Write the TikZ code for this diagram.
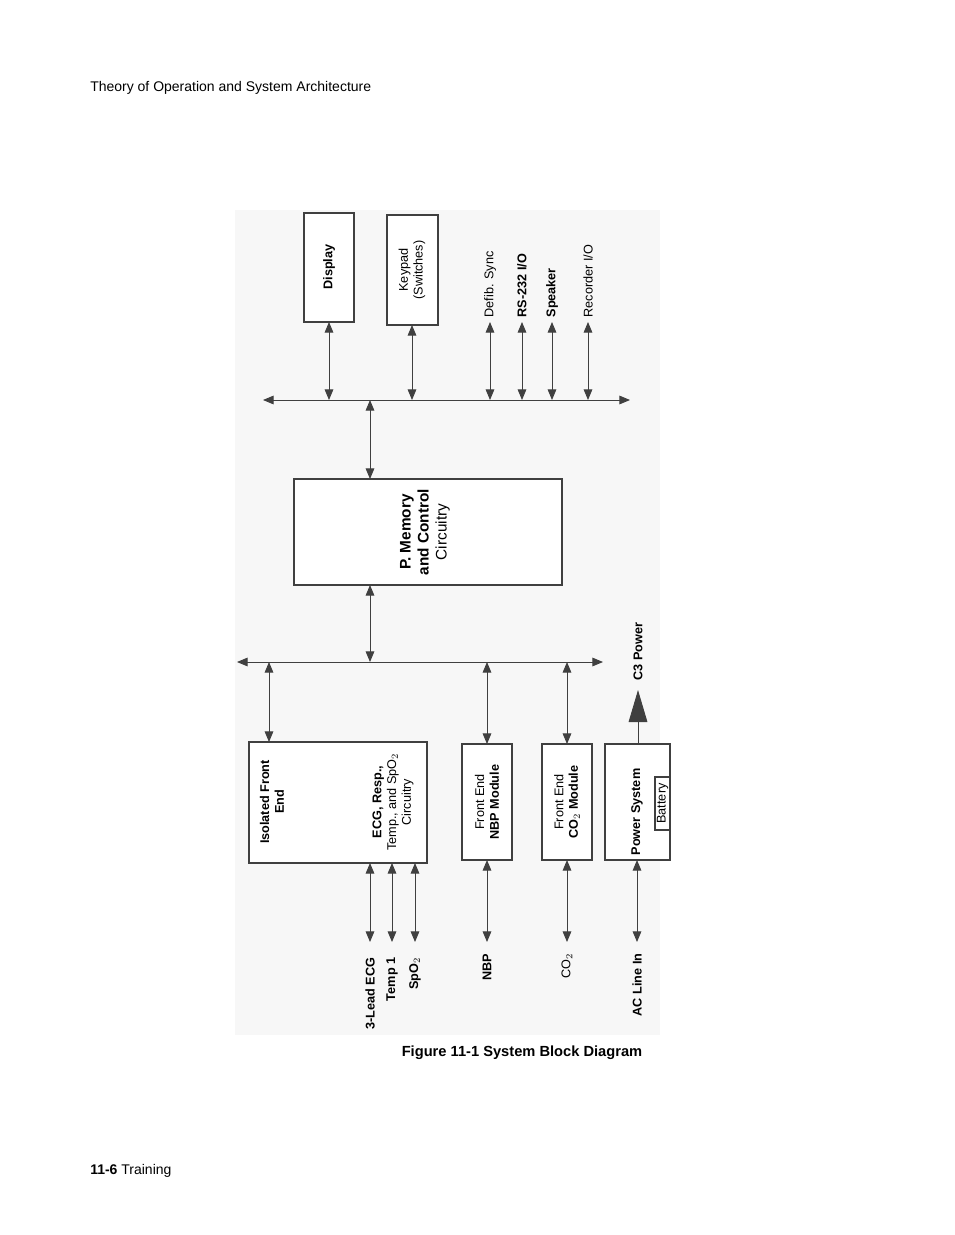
\documentclass[tikz,border=0pt]{standalone}
\usepackage{fontspec}
\setmainfont{Liberation Sans}
\usetikzlibrary{arrows.meta}
\begin{document}
\begin{tikzpicture}[x=0.75pt,y=-0.75pt,
  blk/.style={draw=black!75,line width=0.8pt,fill=white,inner sep=0pt},
  lbl/.style={rotate=90,font=\fontsize{9.5}{11}\selectfont,align=center,inner sep=1pt},
  bi/.style={{Triangle[length=8pt,width=6.5pt]}-{Triangle[length=8pt,width=6.5pt]},draw=black!75,line width=0.7pt},
  page/.style={font=\fontsize{10.5}{12}\selectfont,inner sep=0pt}]
\useasboundingbox (0,0) rectangle (954,1235);
\fill[black!3] (235,210) rectangle (660,1035);
\node[page,anchor=west] (hdr) at (90,88) {Theory of Operation and System Architecture};
\node[page,anchor=west] (ftr) at (90,1171) {\textbf{11-6} Training};
\node[page,font=\fontsize{11}{12}\selectfont\bfseries] (cap) at (522,1053) {Figure 11-1 System Block Diagram};
% boxes
\draw[blk] (304,213) rectangle (354,322);
\coordinate (dispb) at (329,322);
\node[lbl,font=\fontsize{9.5}{11}\selectfont\bfseries] (displ) at (329,267) {Display};
\draw[blk] (387,215) rectangle (438,325);
\coordinate (keyb) at (412,325);
\node[lbl] (keyl) at (412,270) {Keypad\\(Switches)};
\draw[blk] (294,479) rectangle (562,585);
\coordinate (memt) at (370,479); \coordinate (memb) at (370,585);
\node[lbl,font=\fontsize{11.5}{13.5}\selectfont\bfseries] (meml) at (425,532) {P. Memory\\and Control\\\mdseries Circuitry};
\draw[blk] (249,742) rectangle (427,863);
\node[lbl,font=\fontsize{9.5}{11}\selectfont\bfseries] (ifel) at (272,802) {Isolated Front\\End};
\node[lbl] (ecgl) at (393,802) {\textbf{ECG, Resp.,}\\Temp., and SpO$_2$\\Circuitry};
\draw[blk] (462,744) rectangle (512,860);
\node[lbl] (nbpl) at (487,802) {Front End\\\textbf{NBP Module}};
\draw[blk] (542,744) rectangle (592,860);
\node[lbl] (co2l) at (567,802) {Front End\\\textbf{CO$_2$ Module}};
\draw[blk] (605,744) rectangle (670,860);
\node[lbl,font=\fontsize{9.5}{11}\selectfont\bfseries] (psl) at (637,812) {Power System};
\draw[blk] (655,777) rectangle (670,830);
\node[lbl] (batl) at (662.5,803.5) {Battery};
% buses
\coordinate (b1l) at (263,400); \coordinate (b1r) at (630,400);
\draw[bi] (b1l) -- (b1r);
\coordinate (b2l) at (237,662); \coordinate (b2r) at (603,662);
\draw[bi] (b2l) -- (b2r);
% top arrows
\draw[bi] (dispb) -- (329,400);
\draw[bi] (keyb) -- (412,400);
\foreach \x/\t/\n in {490/{Defib. Sync}/d,522/{\textbf{RS-232 I/O}}/r,552/{\textbf{Speaker}}/s,588/{Recorder I/O}/c}{
  \coordinate (t\n) at (\x,322);
  \draw[bi] (t\n) -- (\x,400);
  \node[lbl,anchor=west] (l\n) at (\x,319) {\t};
}
\draw[bi] (memt) -- (370,400);
\draw[bi] (memb) -- (370,662);
\draw[bi] (269,662) -- (269,742);
\draw[bi] (487,662) -- (487,744);
\draw[bi] (567,662) -- (567,744);
% power out
\draw[draw=black!75,line width=0.7pt,-{Triangle[length=24pt,width=14pt]}] (638,744) -- (638,690);
\node[lbl,anchor=west,font=\fontsize{9.5}{11}\selectfont\bfseries] (c3) at (638,682) {C3 Power};
% bottom arrows
\foreach \x/\t/\n in {370/{\textbf{3-Lead ECG}}/e,392/{\textbf{Temp 1}}/t,415/{\textbf{SpO$_2$}}/o}{
  \draw[bi] (\x,863) -- (\x,942);
  \node[lbl,anchor=east] (i\n) at (\x,956) {\t};
}
\foreach \x/\y/\t/\n in {487/860/{\textbf{NBP}}/n,567/860/{CO$_2$}/c,637/860/{\textbf{AC Line In}}/a}{
  \draw[bi] (\x,\y) -- (\x,942);
  \node[lbl,anchor=east] (i\n) at (\x,952) {\t};
}
\end{tikzpicture}
\end{document}
